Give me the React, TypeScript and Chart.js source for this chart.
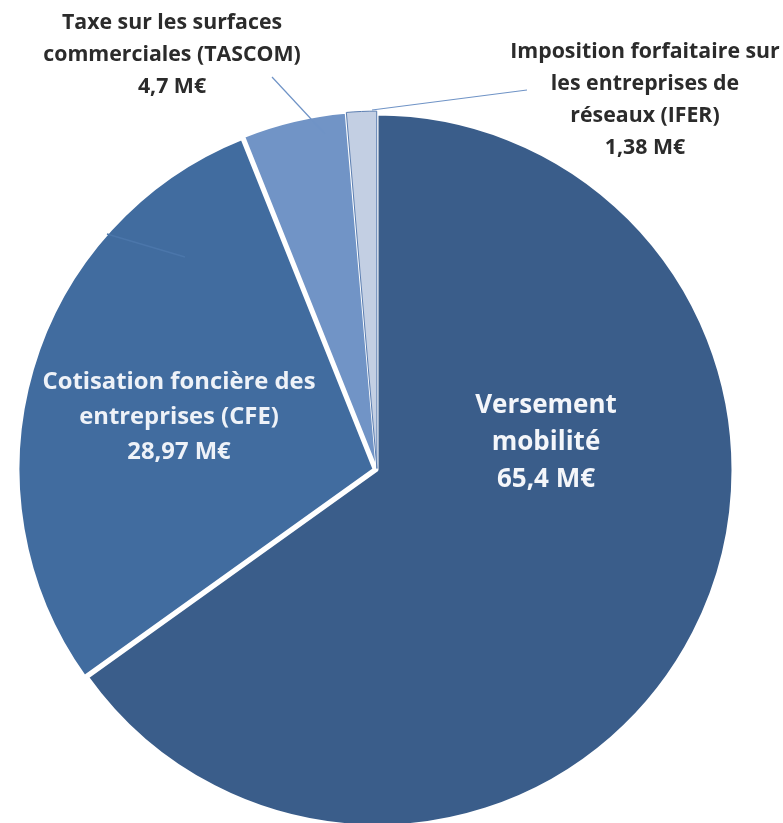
import React, { useEffect, useRef } from 'react';
import { Chart, registerables } from 'chart.js';

Chart.register(...registerables);

// ---- data ----
const categories = [
  'Versement mobilité',
  'Cotisation foncière des entreprises (CFE)',
  'Taxe sur les surfaces commerciales (TASCOM)',
  'Imposition forfaitaire sur les entreprises de réseaux (IFER)',
];
const values = [65.4, 28.97, 4.7, 1.38];
const valueTexts = ['65,4 M€', '28,97 M€', '4,7 M€', '1,38 M€'];
const nameLines = [
  ['Versement', 'mobilité'],
  ['Cotisation foncière des', 'entreprises (CFE)'],
  ['Taxe sur les surfaces', 'commerciales (TASCOM)'],
  ['Imposition forfaitaire sur', 'les entreprises de', 'réseaux (IFER)'],
];

// ---- styles ----
const colors = ['#3a5d8a', '#416c9f', '#7194c6', '#c3cfe3'];
const borderColors = ['#ffffff', '#ffffff', '#ffffff', '#5a7db0'];
const borderWidths = [3, 3, 2, 1];
const offsets = [0, 12, 6, 6];

// label placement relative to pie centre (px): centre of first line
const labelStyle = [
  { dx: 169, dy: -64, size: 26, lh: 37, color: '#f4f6fa' },
  { dx: -198, dy: -88, size: 23.8, lh: 35, color: '#eef2f8' },
  { dx: -205, dy: -447, size: 21.3, lh: 32, color: '#2b2b2b' },
  { dx: 268, dy: -418, size: 21.3, lh: 32, color: '#2b2b2b' },
];
// leader lines relative to pie centre
const leaders = [
  { x1: -105, y1: -393, x2: -52, y2: -336, color: '#6f93c6', w: 1.2 },
  { x1: 150, y1: -380, x2: -5, y2: -360, color: '#6f93c6', w: 1.2 },
  { x1: -270, y1: -236, x2: -192, y2: -213, color: '#4b76aa', w: 1.5 },
];

const labelPlugin = {
  id: 'pieLabels',
  afterDatasetsDraw(chart: any) {
    const meta = chart.getDatasetMeta(0);
    const arc = meta.data[0];
    if (!arc) return;
    const cx = arc.x;
    const cy = arc.y;
    const ctx = chart.ctx as CanvasRenderingContext2D;
    ctx.save();
    leaders.forEach((l) => {
      ctx.beginPath();
      ctx.strokeStyle = l.color;
      ctx.lineWidth = l.w;
      ctx.moveTo(cx + l.x1, cy + l.y1);
      ctx.lineTo(cx + l.x2, cy + l.y2);
      ctx.stroke();
    });
    ctx.textAlign = 'center';
    ctx.textBaseline = 'middle';
    nameLines.forEach((lines, i) => {
      const s = labelStyle[i];
      ctx.font = `bold ${s.size}px "Open Sans", Lato, sans-serif`;
      ctx.fillStyle = s.color;
      const all = [...lines, valueTexts[i]];
      all.forEach((t, k) => {
        ctx.fillText(t, cx + s.dx, cy + s.dy + k * s.lh);
      });
    });
    ctx.restore();
  },
};

export default function App() {
  const ref = useRef<HTMLCanvasElement | null>(null);
  useEffect(() => {
    if (!ref.current) return;
    const chart = new Chart(ref.current, {
      type: 'pie',
      data: {
        labels: categories,
        datasets: [
          {
            data: values,
            backgroundColor: colors,
            borderColor: borderColors,
            borderWidth: borderWidths,
            offset: offsets,
            clip: false as any,
          } as any,
        ],
      },
      options: {
        responsive: false,
        animation: false,
        radius: 356,
        rotation: 0,
        layout: { padding: { left: 0, right: 29, top: 117, bottom: 0 } },
        plugins: {
          legend: { display: false },
          tooltip: { enabled: false },
        },
      } as any,
      plugins: [labelPlugin],
    });
    return () => chart.destroy();
  }, []);
  return (
    <div style={{ position: 'absolute', left: 0, top: 0, width: 783, height: 823, background: '#fff' }}>
      <canvas ref={ref} width={783} height={823} style={{ width: 783, height: 823 }} />
    </div>
  );
}
